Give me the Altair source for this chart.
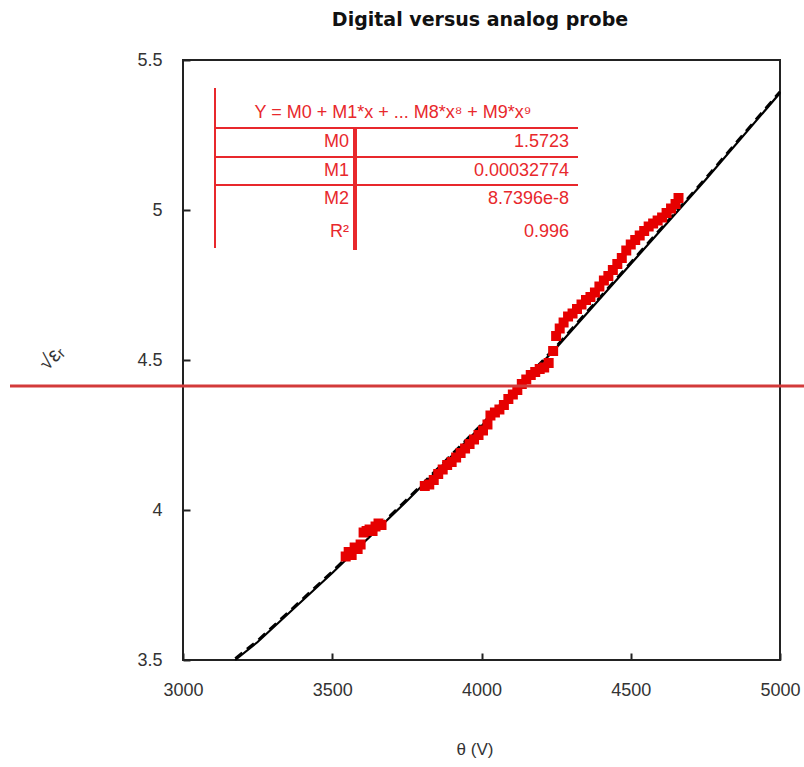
import altair as alt
import pandas as pd

# ---- data ----
theta_v = [3545, 3555, 3565, 3575, 3585, 3595, 3605, 3615, 3625, 3635, 3645, 3655, 3665,
           3810, 3825, 3840, 3855, 3870, 3885, 3900, 3915, 3930, 3945, 3960, 3975, 3990,
           4005, 4020, 4030, 4045, 4060, 4075, 4090, 4105, 4120, 4135, 4150, 4165, 4180,
           4195, 4210, 4225, 4240, 4250, 4262, 4275, 4290, 4305, 4320, 4335, 4350, 4365,
           4380, 4395, 4410, 4425, 4440, 4455, 4470, 4485, 4500, 4515, 4530, 4545, 4560,
           4575, 4590, 4605, 4620, 4635, 4650, 4660]
sqrt_eps = [3.845, 3.86, 3.85, 3.875, 3.87, 3.885, 3.925, 3.93, 3.935, 3.93, 3.945, 3.955, 3.95,
            4.08, 4.085, 4.10, 4.12, 4.135, 4.15, 4.16, 4.175, 4.19, 4.205, 4.22, 4.235, 4.25,
            4.265, 4.285, 4.315, 4.325, 4.335, 4.35, 4.37, 4.385, 4.40, 4.42, 4.435, 4.45, 4.46,
            4.47, 4.475, 4.49, 4.53, 4.58, 4.605, 4.625, 4.645, 4.655, 4.67, 4.685, 4.70, 4.71,
            4.725, 4.745, 4.765, 4.78, 4.80, 4.82, 4.84, 4.865, 4.885, 4.90, 4.915, 4.93, 4.945,
            4.955, 4.965, 4.975, 4.99, 5.005, 5.02, 5.04]

fit_x = [3175, 3250, 3500, 3750, 4000, 4250, 4500, 4750, 5000]
fit_y = [3.5, 3.56, 3.79, 4.03, 4.28, 4.54, 4.82, 5.10, 5.39]
fit_dash_y = [3.505, 3.565, 3.795, 4.035, 4.285, 4.545, 4.825, 5.105, 5.395]

x_ticks = [3000, 3500, 4000, 4500, 5000]
y_ticks = [3.5, 4.0, 4.5, 5.0, 5.5]

title_text = "Digital versus analog probe"
x_title = "θ (V)"
y_title = "√εᵣ"
header = "Y = M0 + M1*x + ... M8*x⁸ + M9*x⁹"
row_names = ["M0", "M1", "M2", "R²"]
row_values = ["1.5723", "0.00032774", "8.7396e-8", "0.996"]

W, H = 597, 600
RED = "#e8282c"
FONT = "Liberation Sans"
TICK = 7

xs = alt.Scale(domain=[3000, 5000], nice=False, zero=False)
ys = alt.Scale(domain=[3.5, 5.5], nice=False, zero=False)

pts = pd.DataFrame({"x": theta_v, "y": sqrt_eps})
fit = pd.DataFrame({"x": fit_x, "y": fit_y})
fitd = pd.DataFrame({"x": fit_x, "y": fit_dash_y})

# ticks point inward: the axis is shifted inside by the tick length
base_x = alt.X("x:Q", scale=xs, title=None,
               axis=alt.Axis(values=x_ticks, format="d", tickSize=TICK, offset=-TICK,
                             tickColor="#222", tickWidth=2, domain=False, grid=False,
                             labelFlush=False, labelPadding=21, labelFont=FONT,
                             labelFontSize=18, labelColor="#333"))
base_y = alt.Y("y:Q", scale=ys, title=None,
               axis=alt.Axis(values=y_ticks, format="~g", tickSize=TICK, offset=-TICK,
                             tickColor="#222", tickWidth=2, domain=False, grid=False,
                             labelPadding=21, labelFont=FONT, labelFontSize=18,
                             labelColor="#333"))

line = alt.Chart(fit).mark_line(color="black", strokeWidth=2.2).encode(x=base_x, y=base_y)
dline = alt.Chart(fitd).mark_line(color="black", strokeWidth=2.6, strokeDash=[9, 6]).encode(
    x=alt.X("x:Q", scale=xs), y=alt.Y("y:Q", scale=ys))
points = alt.Chart(pts).mark_point(shape="square", filled=True, size=100, color="#e60000",
                                   opacity=1).encode(
    x=alt.X("x:Q", scale=xs), y=alt.Y("y:Q", scale=ys))

one = pd.DataFrame({"a": [0]})


def txt(t, x, y, size=18, color=RED, align="center", weight="normal", angle=0, font=FONT):
    kw = dict(text=t, fontSize=size, color=color, align=align, baseline="middle",
              fontWeight=weight, font=font)
    if angle:
        kw["angle"] = angle
    return alt.Chart(one).mark_text(**kw).encode(x=alt.value(x), y=alt.value(y))


def hrule(x1, x2, y, color=RED, w=2):
    return alt.Chart(one).mark_rule(color=color, strokeWidth=w).encode(
        x=alt.value(x1), x2=alt.value(x2), y=alt.value(y))


def vrule(x, y1, y2, color=RED, w=2):
    return alt.Chart(one).mark_rule(color=color, strokeWidth=w).encode(
        x=alt.value(x), y=alt.value(y1), y2=alt.value(y2))


layers = [line, dline, points]

# fit-results table (annotation)
layers += [
    vrule(32, 28, 188),
    vrule(172, 68, 190, w=4),
    hrule(32, 395, 68),
    hrule(32, 395, 97),
    hrule(32, 395, 125),
    txt(header, 210, 53),
]
row_y = [82, 111, 139, 172]
for n, v, ry in zip(row_names, row_values, row_y):
    layers.append(txt(n, 166, ry, align="right"))
    layers.append(txt(v, 386, ry, align="right"))

# titles
layers.append(txt(title_text, 297, -40, size=19, color="#111", weight="bold", font="DejaVu Sans"))
layers.append(txt(x_title, 292, H + 90, size=17, color="#333"))
layers.append(txt(y_title, -131, 298, size=21, color="#333", angle=315))

# overlay red horizontal line
layers.append(hrule(-173, 621, 326, color="#d33a3a", w=3))

chart = alt.layer(*layers).properties(
    width=W, height=H,
    background="white",
    autosize=alt.AutoSizeParams(type="none"),
    padding={"left": 183, "top": 60, "right": 24, "bottom": 107},
).configure_view(stroke="#222", strokeWidth=2)

chart.save("out.html", embed_options={"renderer": "svg", "actions": False})
